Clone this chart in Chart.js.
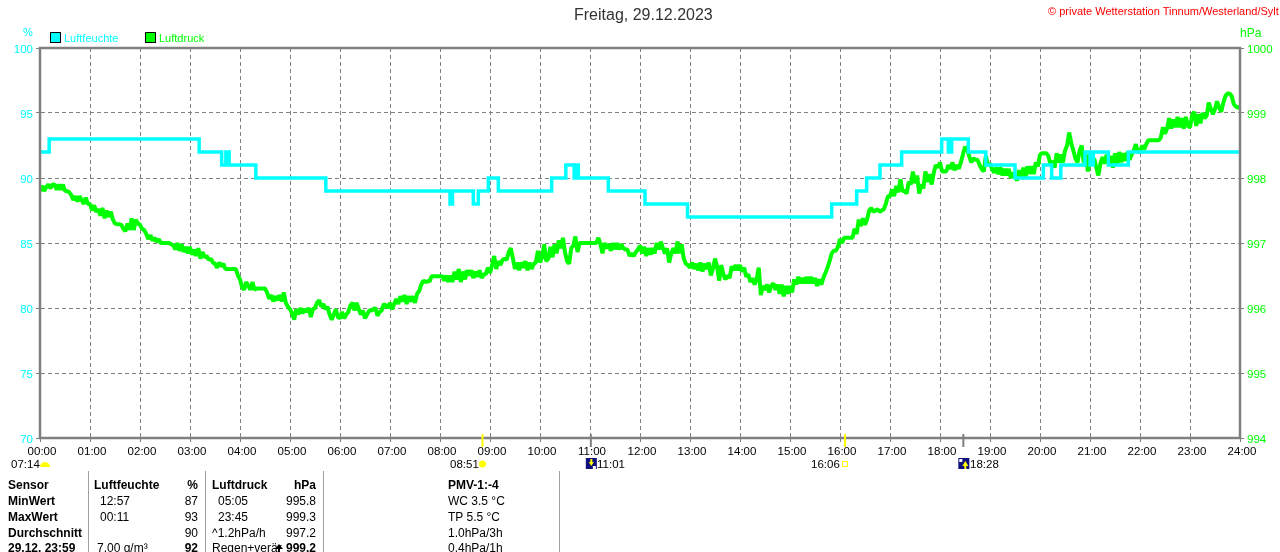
<!DOCTYPE html>
<html>
<head>
<meta charset="utf-8">
<title>Luftfeuchte und Luftdruck</title>
<script src="https://cdn.jsdelivr.net/npm/chart.js@4"></script>
<style>
html, body { margin: 0; padding: 0; background: #fff; width: 1280px; height: 552px; overflow: hidden; }
canvas { position: absolute; left: 0; top: 0; }
.t { position: absolute; font: 12px "Liberation Sans", Arial, sans-serif; color: #000; white-space: nowrap; line-height: 14px; }
.s { font-size: 11.5px; }
.b { font-weight: bold; }
.box { position: absolute; top: 32px; width: 9px; height: 9px; border: 1px solid #000; }
</style>
</head>
<body>
<canvas id="chart" width="1280" height="552"></canvas>

<span class="t" style="left:574px;top:6px;font-size:16px;line-height:18px;color:#333">Freitag, 29.12.2023</span>
<span class="t" style="left:1048px;top:4px;font-size:11px;color:#f00">© private Wetterstation Tinnum/Westerland/Sylt</span>
<span class="t" style="left:23px;top:25px;font-size:11px;color:#0ff">%</span>
<span class="t" style="left:1240px;top:26px;color:#0f0">hPa</span>
<div class="box" style="left:50px;background:#0ff"></div>
<span class="t" style="left:64px;top:31px;font-size:11px;color:#0ff">Luftfeuchte</span>
<div class="box" style="left:145px;background:#0f0"></div>
<span class="t" style="left:159px;top:31px;font-size:11px;color:#0f0">Luftdruck</span>

<span class="t s" style="left:11px;top:457px">07:14</span>
<span class="t s" style="left:450px;top:457px">08:51</span>
<span class="t s" style="left:597px;top:457px">11:01</span>
<span class="t s" style="left:811px;top:457px">16:06</span>
<span class="t s" style="left:970px;top:457px">18:28</span>

<span class="t b" style="left:8px;top:478px">Sensor</span>
<span class="t b" style="left:8px;top:494px">MinWert</span>
<span class="t b" style="left:8px;top:510px">MaxWert</span>
<span class="t b" style="left:8px;top:526px">Durchschnitt</span>
<span class="t b" style="left:8px;top:541px">29.12. 23:59</span>

<span class="t b" style="left:94px;top:478px">Luftfeuchte</span>
<span class="t b" style="right:1082px;top:478px">%</span>
<span class="t" style="left:100px;top:494px">12:57</span>
<span class="t" style="right:1082px;top:494px">87</span>
<span class="t" style="left:100px;top:510px">00:11</span>
<span class="t" style="right:1082px;top:510px">93</span>
<span class="t" style="right:1082px;top:526px">90</span>
<span class="t" style="left:97px;top:541px">7.00 g/m³</span>
<span class="t b" style="right:1082px;top:541px">92</span>

<span class="t b" style="left:212px;top:478px">Luftdruck</span>
<span class="t b" style="right:964px;top:478px">hPa</span>
<span class="t" style="left:218px;top:494px">05:05</span>
<span class="t" style="right:964px;top:494px">995.8</span>
<span class="t" style="left:218px;top:510px">23:45</span>
<span class="t" style="right:964px;top:510px">999.3</span>
<span class="t" style="left:212px;top:526px">^1.2hPa/h</span>
<span class="t" style="right:964px;top:526px">997.2</span>
<span class="t" style="left:212px;top:541px">Regen+verär</span>
<span class="t b" style="right:964px;top:541px">999.2</span>

<span class="t b" style="left:448px;top:478px">PMV-1:-4</span>
<span class="t" style="left:448px;top:494px">WC 3.5 °C</span>
<span class="t" style="left:448px;top:510px">TP 5.5 °C</span>
<span class="t" style="left:448px;top:526px">1.0hPa/3h</span>
<span class="t" style="left:448px;top:541px">0.4hPa/1h</span>

<script>
const hourLabels = ['00:00','01:00','02:00','03:00','04:00','05:00','06:00','07:00','08:00','09:00','10:00','11:00',
    '12:00','13:00','14:00','15:00','16:00','17:00','18:00','19:00','20:00','21:00','22:00','23:00','24:00'];

// humidity only changes in whole steps: minute of change, value from there on
const humidityMinutes = [0,11,191,218,223,227,259,343,492,495,520,526,538,550,614,631,641,644,646,682,726,777,
    950,980,992,1008,1034,1082,1090,1094,1114,1135,1170,1204,1214,1225,1254,1260,1264,1282,1306,1440];
const humidityValues  = [92,93,92,91,92,91,90,89,88,89,88,89,90,89,90,91,90,91,90,89,88,87,
    88,89,90,91,92,93,92,93,92,91,90,91,90,91,92,91,92,91,92,92];

// pressure, one value every 2.5 minutes, one row per hour
const pressureValues = [
    997.80,997.88,997.80,997.86,997.90,997.84,997.90,997.90,997.82,997.90,997.82,997.90,997.80,997.80,997.78,997.74,997.66,997.72,997.64,997.72,997.66,997.60,997.70,997.60,
    997.60,997.50,997.58,997.48,997.52,997.42,997.54,997.38,997.50,997.40,997.48,997.36,997.30,997.29,997.29,997.28,997.22,997.18,997.30,997.20,997.38,997.20,997.36,997.30,
    997.28,997.22,997.20,997.14,997.06,997.12,997.04,997.08,997.02,997.06,997.00,997.00,997.00,997.00,997.00,996.98,996.96,996.90,997.00,996.88,996.98,996.86,996.94,996.84,
    996.94,996.82,996.90,996.80,996.92,996.76,996.86,996.78,996.80,996.74,996.76,996.70,996.68,996.62,996.70,996.64,996.68,996.60,996.60,996.60,996.60,996.60,996.60,996.50,
    996.44,996.32,996.28,996.40,996.34,996.28,996.40,996.28,996.30,996.30,996.30,996.30,996.30,996.24,996.14,996.20,996.10,996.18,996.12,996.20,996.10,996.24,996.08,996.02,
    995.98,995.92,995.82,995.98,995.90,996.00,995.92,995.98,995.94,996.00,995.86,995.98,996.00,996.08,996.12,996.02,996.06,995.98,996.02,995.90,995.82,995.90,995.98,995.86,
    995.84,995.94,995.84,995.90,995.94,996.04,996.08,995.96,996.08,995.98,995.90,995.96,995.84,995.90,995.96,995.96,995.98,996.00,995.88,995.94,995.96,996.06,996.04,996.00,
    996.08,995.98,996.06,996.14,996.06,996.18,996.10,996.20,996.06,996.18,996.10,996.18,996.08,996.22,996.26,996.36,996.42,996.40,996.41,996.41,996.49,996.49,996.49,996.49,
    996.49,996.49,996.42,996.50,996.40,996.50,996.40,996.56,996.44,996.60,996.40,996.56,996.44,996.58,996.50,996.58,996.46,996.56,996.48,996.58,996.46,996.52,996.52,996.62,
    996.54,996.66,996.80,996.60,996.72,996.66,996.74,996.76,996.74,996.86,996.92,996.76,996.60,996.70,996.58,996.70,996.62,996.72,996.58,996.70,996.60,996.68,996.70,996.88,
    996.70,996.78,996.98,996.72,996.76,996.94,996.78,996.98,996.84,997.04,996.92,997.08,996.86,996.72,996.68,996.92,996.96,997.10,996.86,997.00,997.00,997.00,997.00,997.00,
    997.00,997.00,997.00,997.00,997.08,996.98,996.84,997.00,996.92,996.98,996.88,997.00,996.90,997.00,996.90,996.98,996.92,996.90,996.90,996.80,996.84,996.80,996.86,996.90,
    996.96,996.84,996.94,996.80,996.92,996.82,996.92,996.84,997.00,996.90,997.02,996.92,996.84,996.92,996.70,996.84,996.92,996.84,997.02,996.84,996.98,996.76,996.68,996.66,
    996.62,996.70,996.60,996.68,996.58,996.70,996.56,996.68,996.60,996.70,996.50,996.60,996.76,996.64,996.42,996.66,996.52,996.44,996.50,996.46,996.64,996.58,996.66,996.58,
    996.66,996.56,996.62,996.48,996.52,996.40,996.46,996.36,996.44,996.62,996.20,996.34,996.28,996.36,996.24,996.34,996.38,996.28,996.36,996.22,996.36,996.18,996.34,996.22,
    996.34,996.24,996.44,996.36,996.48,996.38,996.46,996.38,996.48,996.38,996.48,996.38,996.46,996.34,996.44,996.36,996.46,996.54,996.62,996.72,996.84,996.88,996.88,996.94,
    997.06,997.00,997.08,997.08,997.08,997.08,997.08,997.22,997.14,997.36,997.26,997.38,997.28,997.36,997.50,997.54,997.48,997.50,997.52,997.48,997.50,997.52,997.60,997.72,
    997.72,997.82,997.72,997.88,997.78,997.98,997.80,997.80,997.76,997.94,997.90,998.10,997.92,998.04,997.76,997.90,997.84,998.10,997.94,998.06,997.90,998.08,998.20,998.16,
    998.24,998.10,998.10,998.10,998.20,998.14,998.24,998.12,998.20,998.14,998.24,998.36,998.48,998.44,998.34,998.24,998.30,998.28,998.28,998.20,998.14,998.10,998.34,998.20,
    998.22,998.14,998.08,998.16,998.06,998.16,998.04,998.14,998.04,998.14,998.00,998.08,998.02,997.96,998.12,998.00,998.16,998.00,998.18,998.06,998.18,998.06,998.24,998.18,
    998.36,998.38,998.38,998.38,998.34,998.22,998.26,998.16,998.38,998.24,998.36,998.24,998.42,998.50,998.70,998.54,998.42,998.30,998.24,998.42,998.50,998.24,998.36,998.10,
    998.36,998.20,998.30,998.16,998.04,998.22,998.32,998.22,998.36,998.22,998.34,998.16,998.38,998.20,998.40,998.24,998.38,998.26,998.40,998.28,998.36,998.42,998.52,998.40,
    998.40,998.50,998.44,998.52,998.58,998.58,998.58,998.58,998.58,998.58,998.62,998.78,998.68,998.76,998.92,998.76,998.90,998.78,998.94,998.78,998.92,998.76,998.94,998.80,
    998.78,998.96,999.02,998.80,998.98,998.84,999.00,998.92,998.96,999.16,999.06,998.98,999.06,999.18,999.08,999.02,999.16,999.26,999.30,999.30,999.26,999.14,999.10,999.08,
    999.10
];

const sunMinutes  = [531, 966];   // 08:51, 16:06
const moonMinutes = [661, 1108];  // 11:01, 18:28

const GREY = '#808080';
const CYAN = '#00FFFF';
const GREEN = '#00FF00';
const tickFont = { family: "'Liberation Sans', Arial, sans-serif", size: 11.5 };

// moon icon: navy square with a small yellow arrow
function moonIcon(ctx, x, y, up) {
    ctx.fillStyle = '#10107c';
    ctx.fillRect(x, y, 11, 11);
    ctx.fillStyle = '#fff';
    ctx.fillRect(up ? x + 1 : x + 7, up ? y + 1 : y + 8, 3, 3);
    ctx.fillStyle = '#ffff00';
    ctx.beginPath();
    if (up) {
        ctx.moveTo(x + 7, y + 3); ctx.lineTo(x + 10, y + 8); ctx.lineTo(x + 4, y + 8);
    } else {
        ctx.moveTo(x + 3, y + 4); ctx.lineTo(x + 8, y + 4); ctx.lineTo(x + 5.5, y + 8);
    }
    ctx.fill();
    ctx.fillRect(up ? x + 6 : x + 4.5, up ? y + 7 : y + 1, 2, 4);
}

const framePlugin = {
    id: 'frame',
    afterDatasetsDraw(chart) {
        const { ctx, chartArea: a, scales } = chart;
        ctx.save();
        ctx.strokeStyle = GREY;
        ctx.lineWidth = 2.5;
        ctx.strokeRect(a.left, a.top, a.right - a.left, a.bottom - a.top);

        // rise and set marks below the axis
        ctx.lineWidth = 2;
        ctx.strokeStyle = '#ffff00';
        sunMinutes.forEach(m => {
            const x = scales.x.getPixelForValue(m);
            ctx.beginPath(); ctx.moveTo(x, 434); ctx.lineTo(x, 447); ctx.stroke();
        });
        ctx.strokeStyle = GREY;
        moonMinutes.forEach(m => {
            const x = scales.x.getPixelForValue(m);
            ctx.beginPath(); ctx.moveTo(x, 434); ctx.lineTo(x, 447); ctx.stroke();
        });

        // sunrise, half sun
        ctx.fillStyle = '#ffff00';
        ctx.beginPath();
        ctx.ellipse(45, 467, 5, 5, 0, Math.PI, 0);
        ctx.fill();
        // full sun
        ctx.beginPath();
        ctx.arc(scales.x.getPixelForValue(sunMinutes[0]), 464, 3.5, 0, Math.PI * 2);
        ctx.fill();
        // sunset, empty square
        ctx.strokeStyle = '#ffff00';
        ctx.lineWidth = 1;
        ctx.strokeRect(Math.round(scales.x.getPixelForValue(sunMinutes[1])) - 2.5, 461.5, 5, 5);

        moonIcon(ctx, scales.x.getPixelForValue(moonMinutes[0]) - 5, 458, false);
        moonIcon(ctx, scales.x.getPixelForValue(moonMinutes[1]) - 5, 458, true);

        // table separators
        ctx.strokeStyle = '#a0a0a0';
        ctx.lineWidth = 1;
        [88, 205, 323, 559].forEach(x => {
            ctx.beginPath(); ctx.moveTo(x + 0.5, 471); ctx.lineTo(x + 0.5, 552); ctx.stroke();
        });
        // pressure tendency arrow
        ctx.fillStyle = '#000';
        ctx.beginPath();
        ctx.moveTo(279, 544); ctx.lineTo(283, 549); ctx.lineTo(275, 549);
        ctx.fill();
        ctx.fillRect(278, 548, 2, 4);
        ctx.restore();
    }
};

new Chart(document.getElementById('chart'), {
    type: 'line',
    data: {
        datasets: [
            {
                label: 'Luftfeuchte',
                yAxisID: 'y',
                data: humidityMinutes.map((m, i) => ({ x: m, y: humidityValues[i] })),
                borderColor: CYAN,
                borderWidth: 3.5,
                stepped: true,
                pointRadius: 0
            },
            {
                label: 'Luftdruck',
                yAxisID: 'y2',
                data: pressureValues.map((v, i) => ({ x: i * 2.5, y: v })),
                borderColor: GREEN,
                borderWidth: 4,
                borderJoinStyle: 'bevel',
                pointRadius: 0
            }
        ]
    },
    options: {
        responsive: false,
        animation: false,
        events: [],
        layout: { padding: { top: 48, left: 0, right: 0, bottom: 0 } },
        plugins: { legend: { display: false }, tooltip: { enabled: false } },
        scales: {
            x: {
                type: 'linear',
                min: 0,
                max: 1440,
                afterFit: s => { s.height = 114; },
                ticks: {
                    stepSize: 60,
                    autoSkip: false,
                    maxRotation: 0,
                    padding: 3,
                    labelOffset: 2,
                    color: '#000',
                    font: tickFont,
                    callback: v => hourLabels[v / 60]
                },
                grid: { color: GREY, lineWidth: 1, tickLength: 4, tickColor: GREY },
                border: { dash: [4, 3], color: GREY }
            },
            y: {
                position: 'left',
                min: 70,
                max: 100,
                afterFit: s => { s.width = 40; },
                ticks: { stepSize: 5, padding: 3, labelOffset: 1.5, color: CYAN, font: tickFont },
                grid: { color: GREY, lineWidth: 1, tickLength: 4, tickColor: GREY },
                border: { dash: [4, 3], color: GREY }
            },
            y2: {
                position: 'right',
                min: 994,
                max: 1000,
                afterFit: s => { s.width = 40; },
                ticks: { stepSize: 1, padding: 3, labelOffset: 1.5, color: GREEN, font: tickFont, callback: v => String(v) },
                grid: { drawOnChartArea: false, tickLength: 4, tickColor: GREY },
                border: { color: GREY }
            }
        }
    },
    plugins: [framePlugin]
});
</script>
</body>
</html>
